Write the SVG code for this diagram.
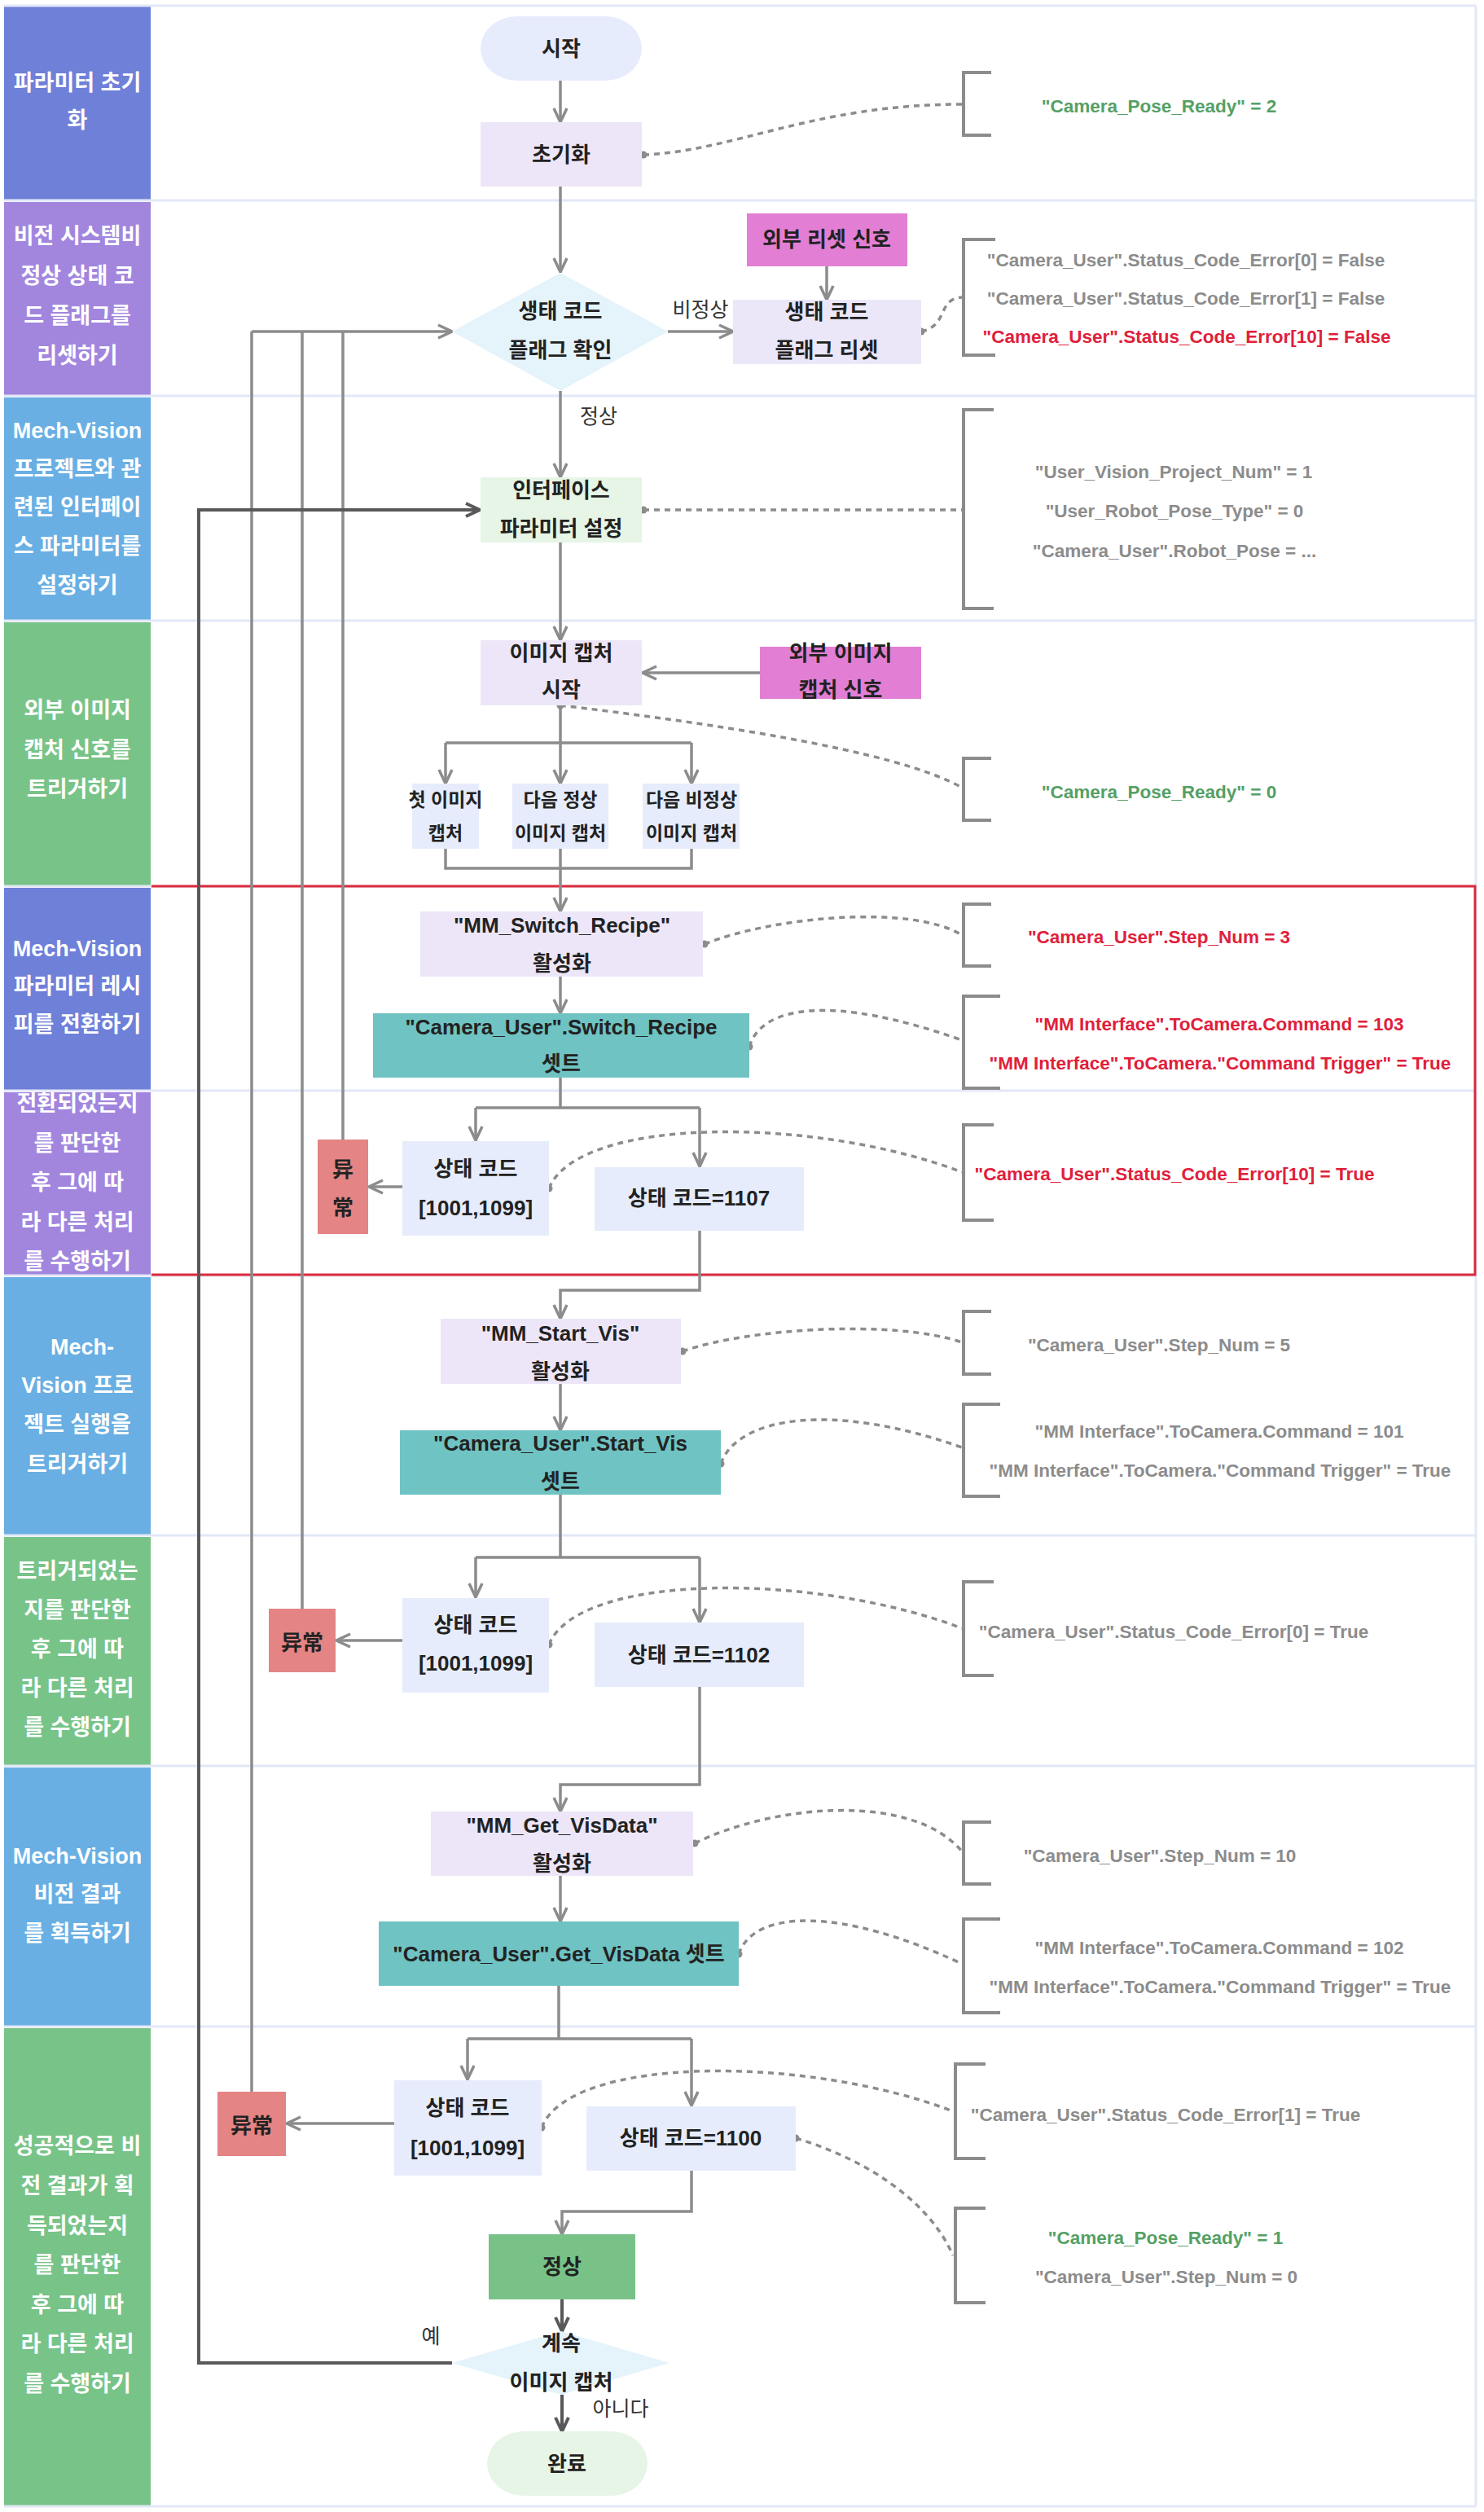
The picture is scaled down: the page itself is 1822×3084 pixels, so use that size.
<svg xmlns="http://www.w3.org/2000/svg" width="1822" height="3084" viewBox="0 0 1822 3084">
<defs>
<style>
.lbl{font-family:"Liberation Sans","Noto Sans CJK KR",sans-serif;font-weight:bold;font-size:27px;fill:#fff;text-anchor:middle;dominant-baseline:central}
.nt{font-family:"Liberation Sans","Noto Sans CJK KR",sans-serif;font-weight:bold;font-size:26px;fill:#222;text-anchor:middle;dominant-baseline:central}
.ns{font-family:"Liberation Sans","Noto Sans CJK KR",sans-serif;font-weight:bold;font-size:23px;fill:#222;text-anchor:middle;dominant-baseline:central}
.cn{font-family:"Noto Sans CJK SC","Noto Sans CJK KR",sans-serif;font-weight:bold;font-size:26px;fill:#222;text-anchor:middle;dominant-baseline:central}
.el{font-family:"Liberation Sans","Noto Sans CJK KR",sans-serif;font-size:25px;fill:#333;text-anchor:middle;dominant-baseline:central}
.an{font-family:"Liberation Sans","Noto Sans CJK KR",sans-serif;font-weight:bold;font-size:22.5px;text-anchor:middle;dominant-baseline:central}
.g{fill:#8c8c8c}.r{fill:#e0203a}.gr{fill:#55a064}
.e{fill:none;stroke:#8c8c8c;stroke-width:3.5}
.ed{fill:none;stroke:#595959;stroke-width:4}
.d{fill:none;stroke:#8c8c8c;stroke-width:3.5;stroke-dasharray:7 6}
.br{fill:none;stroke:#8c8c8c;stroke-width:4}
.sep{stroke:#e3e8f8;stroke-width:3}
</style>
<marker id="a" viewBox="0 0 20 20" refX="19" refY="10" markerWidth="20" markerHeight="20" orient="auto" markerUnits="userSpaceOnUse"><path d="M2,2 L19,10 L2,18" fill="none" stroke="#8c8c8c" stroke-width="3.5"/></marker>
<marker id="ad" viewBox="0 0 20 20" refX="19" refY="10" markerWidth="20" markerHeight="20" orient="auto" markerUnits="userSpaceOnUse"><path d="M2,2 L19,10 L2,18" fill="none" stroke="#595959" stroke-width="4"/></marker>
</defs>
<rect x="0" y="0" width="1822" height="3084" fill="#fff"/>

<g id="lanes">
<rect x="5" y="8" width="180" height="237" fill="#6f80d9"/>
<rect x="5" y="248" width="180" height="237" fill="#a286de"/>
<rect x="5" y="488" width="180" height="273" fill="#69afe3"/>
<rect x="5" y="764" width="180" height="323" fill="#78c388"/>
<rect x="5" y="1090" width="180" height="248" fill="#6f80d9"/>
<rect x="5" y="1341" width="180" height="224" fill="#a286de"/>
<rect x="5" y="1568" width="180" height="316" fill="#69afe3"/>
<rect x="5" y="1887" width="180" height="280" fill="#78c388"/>
<rect x="5" y="2170" width="180" height="317" fill="#69afe3"/>
<rect x="5" y="2490" width="180" height="586" fill="#78c388"/>
<line class="sep" x1="5" y1="7" x2="1812" y2="7"/>
<line class="sep" x1="1812" y1="7" x2="1812" y2="3077"/>
<line class="sep" x1="5" y1="3077" x2="1812" y2="3077"/>
<line class="sep" x1="5" y1="246" x2="1812" y2="246"/>
<line class="sep" x1="5" y1="486" x2="1812" y2="486"/>
<line class="sep" x1="5" y1="762" x2="1812" y2="762"/>
<line class="sep" x1="5" y1="1088" x2="1812" y2="1088"/>
<line class="sep" x1="5" y1="1339" x2="1812" y2="1339"/>
<line class="sep" x1="5" y1="1566" x2="1812" y2="1566"/>
<line class="sep" x1="5" y1="1885" x2="1812" y2="1885"/>
<line class="sep" x1="5" y1="2168" x2="1812" y2="2168"/>
<line class="sep" x1="5" y1="2488" x2="1812" y2="2488"/>
<path d="M186,1088 L1811,1088 L1811,1565 L186,1565" fill="none" stroke="#dc2a3c" stroke-width="3"/>
<text class="lbl" x="95" y="102">파라미터 초기</text>
<text class="lbl" x="95" y="148">화</text>
<text class="lbl" x="95" y="290">비전 시스템비</text>
<text class="lbl" x="95" y="339">정상 상태 코</text>
<text class="lbl" x="95" y="388">드 플래그를</text>
<text class="lbl" x="95" y="437">리셋하기</text>
<text class="lbl" x="95" y="529">Mech-Vision</text>
<text class="lbl" x="95" y="576">프로젝트와 관</text>
<text class="lbl" x="95" y="623">련된 인터페이</text>
<text class="lbl" x="95" y="671">스 파라미터를</text>
<text class="lbl" x="95" y="719">설정하기</text>
<text class="lbl" x="95" y="872">외부 이미지</text>
<text class="lbl" x="95" y="921">캡처 신호를</text>
<text class="lbl" x="95" y="969">트리거하기</text>
<text class="lbl" x="95" y="1165">Mech-Vision</text>
<text class="lbl" x="95" y="1211">파라미터 레시</text>
<text class="lbl" x="95" y="1258">피를 전환하기</text>
<text class="lbl" x="95" y="1355">전환되었는지</text>
<text class="lbl" x="95" y="1404">를 판단한</text>
<text class="lbl" x="95" y="1452">후 그에 따</text>
<text class="lbl" x="95" y="1501">라 다른 처리</text>
<text class="lbl" x="95" y="1549">를 수행하기</text>
<text class="lbl" x="101" y="1654">Mech-</text>
<text class="lbl" x="95" y="1701">Vision 프로</text>
<text class="lbl" x="95" y="1749">젝트 실행을</text>
<text class="lbl" x="95" y="1798">트리거하기</text>
<text class="lbl" x="95" y="1929">트리거되었는</text>
<text class="lbl" x="95" y="1977">지를 판단한</text>
<text class="lbl" x="95" y="2025">후 그에 따</text>
<text class="lbl" x="95" y="2073">라 다른 처리</text>
<text class="lbl" x="95" y="2121">를 수행하기</text>
<text class="lbl" x="95" y="2279">Mech-Vision</text>
<text class="lbl" x="95" y="2326">비전 결과</text>
<text class="lbl" x="95" y="2374">를 획득하기</text>
<text class="lbl" x="95" y="2635">성공적으로 비</text>
<text class="lbl" x="95" y="2684">전 결과가 획</text>
<text class="lbl" x="95" y="2733">득되었는지</text>
<text class="lbl" x="95" y="2781">를 판단한</text>
<text class="lbl" x="95" y="2830">후 그에 따</text>
<text class="lbl" x="95" y="2878">라 다른 처리</text>
<text class="lbl" x="95" y="2927">를 수행하기</text>
</g>

<g id="connectors">
<path class="e" d="M688,99 L688,150" marker-end="url(#a)"/>
<path class="e" d="M688,229 L688,334" marker-end="url(#a)"/>
<path class="e" d="M820,407 L900,407" marker-end="url(#a)"/>
<path class="e" d="M1015,327 L1015,368" marker-end="url(#a)"/>
<path class="e" d="M688,480 L688,586" marker-end="url(#a)"/>
<path class="e" d="M688,666 L688,786" marker-end="url(#a)"/>
<path class="e" d="M933,826 L789,826" marker-end="url(#a)"/>
<path class="e" d="M688,866 L688,912 M547,912 L849,912"/>
<path class="e" d="M547,912 L547,962" marker-end="url(#a)"/>
<path class="e" d="M688,912 L688,962" marker-end="url(#a)"/>
<path class="e" d="M849,912 L849,962" marker-end="url(#a)"/>
<path class="e" d="M547,1042 L547,1066 L849,1066 L849,1042"/>
<path class="e" d="M688,1042 L688,1119" marker-end="url(#a)"/>
<path class="e" d="M688,1199 L688,1244" marker-end="url(#a)"/>
<path class="e" d="M688,1323 L688,1360 M584,1360 L859,1360"/>
<path class="e" d="M584,1360 L584,1400" marker-end="url(#a)"/>
<path class="e" d="M859,1360 L859,1432" marker-end="url(#a)"/>
<path class="e" d="M494,1457 L453,1457" marker-end="url(#a)"/>
<path class="e" d="M421,1399 L421,407 M371,1975 L371,407 M309,2568 L309,407"/>
<path class="e" d="M309,407 L555,407" marker-end="url(#a)"/>
<path class="e" d="M859,1511 L859,1584 L688,1584 L688,1619" marker-end="url(#a)"/>
<path class="e" d="M688,1699 L688,1756" marker-end="url(#a)"/>
<path class="e" d="M688,1835 L688,1912 M584,1912 L859,1912"/>
<path class="e" d="M584,1912 L584,1961" marker-end="url(#a)"/>
<path class="e" d="M859,1912 L859,1992" marker-end="url(#a)"/>
<path class="e" d="M494,2014 L413,2014" marker-end="url(#a)"/>
<path class="e" d="M859,2071 L859,2191 L688,2191 L688,2224" marker-end="url(#a)"/>
<path class="e" d="M688,2303 L688,2359" marker-end="url(#a)"/>
<path class="e" d="M686,2438 L686,2503 M574,2503 L849,2503"/>
<path class="e" d="M574,2503 L574,2553" marker-end="url(#a)"/>
<path class="e" d="M849,2503 L849,2585" marker-end="url(#a)"/>
<path class="e" d="M484,2607 L352,2607" marker-end="url(#a)"/>
<path class="e" d="M849,2665 L849,2715 L690,2715 L690,2743" marker-end="url(#a)"/>
<path class="ed" d="M690,2823 L690,2862" marker-end="url(#ad)"/>
<path class="ed" d="M555,2901 L244,2901 L244,626 L589,626" marker-end="url(#ad)"/>
<path class="ed" d="M690,2940 L690,2985" marker-end="url(#ad)"/>
<text class="el" x="860" y="380">비정상</text>
<text class="el" x="735" y="511">정상</text>
<text class="el" x="529" y="2868">예</text>
<text class="el" x="762" y="2957">아니다</text>

<path class="d" d="M790,190 C900,186 1000,128 1181,128"/>
<circle class="g" cx="790" cy="190" r="4.5"/>
<path class="d" d="M1131,407 C1165,400 1150,367 1181,365"/>
<circle class="g" cx="1131" cy="407" r="4.5"/>
<path class="d" d="M790,626 L1181,626"/>
<circle class="g" cx="790" cy="626" r="4.5"/>
<path class="d" d="M688,866 C850,885 1100,920 1181,967"/>
<circle class="g" cx="688" cy="866" r="4.5"/>
<path class="d" d="M865,1159 C950,1125 1120,1110 1181,1148"/>
<circle class="g" cx="865" cy="1159" r="4.5"/>
<path class="d" d="M920,1285 C935,1235 1020,1220 1181,1277"/>
<circle class="g" cx="920" cy="1285" r="4.5"/>
<path class="d" d="M674,1459 C710,1370 1000,1370 1181,1439"/>
<circle class="g" cx="674" cy="1459" r="4.5"/>
<path class="d" d="M838,1659 C920,1630 1100,1620 1181,1648"/>
<circle class="g" cx="838" cy="1659" r="4.5"/>
<path class="d" d="M885,1797 C905,1740 1020,1720 1181,1777"/>
<circle class="g" cx="885" cy="1797" r="4.5"/>
<path class="d" d="M674,2019 C710,1930 1000,1930 1181,1999"/>
<circle class="g" cx="674" cy="2019" r="4.5"/>
<path class="d" d="M853,2263 C950,2215 1120,2200 1181,2273"/>
<circle class="g" cx="853" cy="2263" r="4.5"/>
<path class="d" d="M907,2399 C925,2345 1030,2340 1181,2411"/>
<circle class="g" cx="907" cy="2399" r="4.5"/>
<path class="d" d="M665,2612 C700,2523 990,2523 1170,2592"/>
<circle class="g" cx="665" cy="2612" r="4.5"/>
<path class="d" d="M977,2625 C1060,2650 1140,2700 1170,2769"/>
<circle class="g" cx="977" cy="2625" r="4.5"/>
</g>

<g id="n_start"><rect x="590" y="20" width="198" height="79" rx="45" ry="40" fill="#e6ecfb"/><text class="nt" x="689" y="60">시작</text></g>
<g id="n_init"><rect x="590" y="150" width="198" height="79" fill="#ede6f8"/><text class="nt" x="689" y="190">초기화</text></g>
<g id="n_check"><polygon points="688,335 820,407 688,480 555,407" fill="#e5f3fb"/><text class="nt" x="688" y="382">생태 코드</text><text class="nt" x="688" y="430">플래그 확인</text></g>
<g id="n_extreset"><rect x="917" y="262" width="197" height="65" fill="#e27fd4"/><text class="nt" x="1015" y="294">외부 리셋 신호</text></g>
<g id="n_reset"><rect x="900" y="368" width="231" height="79" fill="#ebe7f8"/><text class="nt" x="1015" y="383">생태 코드</text><text class="nt" x="1015" y="430">플래그 리셋</text></g>
<g id="n_iface"><rect x="590" y="586" width="198" height="80" fill="#e6f5e6"/><text class="nt" x="689" y="602">인터페이스</text><text class="nt" x="689" y="649">파라미터 설정</text></g>
<g id="n_capstart"><rect x="590" y="786" width="198" height="80" fill="#ede6f8"/><text class="nt" x="689" y="802">이미지 캡처</text><text class="nt" x="689" y="847">시작</text></g>
<g id="n_extcap"><rect x="933" y="794" width="198" height="64" fill="#e27fd4"/><text class="nt" x="1032" y="802">외부 이미지</text><text class="nt" x="1032" y="847">캡처 신호</text></g>
<g id="n_cap1"><rect x="506" y="962" width="82" height="80" fill="#e6ecfb"/><text class="ns" x="547" y="982">첫 이미지</text><text class="ns" x="547" y="1023">캡처</text></g>
<g id="n_cap2"><rect x="629" y="962" width="118" height="80" fill="#e6ecfb"/><text class="ns" x="688" y="982">다음 정상</text><text class="ns" x="688" y="1023">이미지 캡처</text></g>
<g id="n_cap3"><rect x="789" y="962" width="119" height="80" fill="#e6ecfb"/><text class="ns" x="849" y="982">다음 비정상</text><text class="ns" x="849" y="1023">이미지 캡처</text></g>
<g id="n_mmswitch"><rect x="516" y="1119" width="347" height="80" fill="#ede6f8"/><text class="nt" x="690" y="1136">"MM_Switch_Recipe"</text><text class="nt" x="690" y="1183">활성화</text></g>
<g id="n_switch"><rect x="458" y="1244" width="462" height="79" fill="#6fc3c2"/><text class="nt" x="689" y="1261">"Camera_User".Switch_Recipe</text><text class="nt" x="689" y="1306">셋트</text></g>
<g id="n_code1"><rect x="494" y="1401" width="180" height="116" fill="#e6ecfb"/><text class="nt" x="584" y="1435">상태 코드</text><text class="nt" x="584" y="1483">[1001,1099]</text></g>
<g id="n_1107"><rect x="730" y="1433" width="257" height="78" fill="#e6ecfb"/><text class="nt" x="858" y="1471">상태 코드=1107</text></g>
<g id="n_err1"><rect x="390" y="1399" width="62" height="116" fill="#e48484"/><text class="cn" x="421" y="1433">异</text><text class="cn" x="421" y="1480">常</text></g>
<g id="n_mmstart"><rect x="541" y="1619" width="295" height="80" fill="#ede6f8"/><text class="nt" x="688" y="1637">"MM_Start_Vis"</text><text class="nt" x="688" y="1684">활성화</text></g>
<g id="n_startvis"><rect x="491" y="1756" width="394" height="79" fill="#6fc3c2"/><text class="nt" x="688" y="1772">"Camera_User".Start_Vis</text><text class="nt" x="688" y="1819">셋트</text></g>
<g id="n_code2"><rect x="494" y="1962" width="180" height="116" fill="#e6ecfb"/><text class="nt" x="584" y="1995">상태 코드</text><text class="nt" x="584" y="2042">[1001,1099]</text></g>
<g id="n_1102"><rect x="730" y="1992" width="257" height="79" fill="#e6ecfb"/><text class="nt" x="858" y="2032">상태 코드=1102</text></g>
<g id="n_err2"><rect x="330" y="1975" width="82" height="78" fill="#e48484"/><text class="cn" x="371" y="2014">异常</text></g>
<g id="n_mmget"><rect x="529" y="2224" width="322" height="79" fill="#ede6f8"/><text class="nt" x="690" y="2241">"MM_Get_VisData"</text><text class="nt" x="690" y="2288">활성화</text></g>
<g id="n_getvis"><rect x="465" y="2359" width="442" height="79" fill="#6fc3c2"/><text class="nt" x="686" y="2399">"Camera_User".Get_VisData 셋트</text></g>
<g id="n_code3"><rect x="484" y="2554" width="181" height="117" fill="#e6ecfb"/><text class="nt" x="574" y="2588">상태 코드</text><text class="nt" x="574" y="2637">[1001,1099]</text></g>
<g id="n_1100"><rect x="720" y="2586" width="257" height="79" fill="#e6ecfb"/><text class="nt" x="848" y="2625">상태 코드=1100</text></g>
<g id="n_err3"><rect x="267" y="2568" width="84" height="79" fill="#e48484"/><text class="cn" x="309" y="2607">异常</text></g>
<g id="n_ok"><rect x="600" y="2743" width="180" height="80" fill="#78c288"/><text class="nt" x="690" y="2783">정상</text></g>
<g id="n_cont"><polygon points="689,2862 822,2901 689,2940 555,2901" fill="#e5f3fb"/><text class="nt" x="689" y="2877">계속</text><text class="nt" x="689" y="2925">이미지 캡처</text></g>
<g id="n_end"><rect x="598" y="2985" width="197" height="79" rx="45" ry="40" fill="#e6f5e6"/><text class="nt" x="696" y="3025">완료</text></g>

<g id="annotations">
<path class="br" d="M1217,89 L1183,89 L1183,166 L1217,166"/>
<text class="an gr" x="1423" y="130">"Camera_Pose_Ready" = 2</text>
<path class="br" d="M1222,294 L1183,294 L1183,436 L1222,436"/>
<text class="an g" x="1456" y="319">"Camera_User".Status_Code_Error[0] = False</text>
<text class="an g" x="1456" y="366">"Camera_User".Status_Code_Error[1] = False</text>
<text class="an r" x="1457" y="413">"Camera_User".Status_Code_Error[10] = False</text>
<path class="br" d="M1220,503 L1183,503 L1183,747 L1220,747"/>
<text class="an g" x="1441" y="579">"User_Vision_Project_Num" = 1</text>
<text class="an g" x="1442" y="627">"User_Robot_Pose_Type" = 0</text>
<text class="an g" x="1442" y="676">"Camera_User".Robot_Pose = ...</text>
<path class="br" d="M1217,931 L1183,931 L1183,1007 L1217,1007"/>
<text class="an gr" x="1423" y="972">"Camera_Pose_Ready" = 0</text>
<path class="br" d="M1217,1110 L1183,1110 L1183,1186 L1217,1186"/>
<text class="an r" x="1423" y="1150">"Camera_User".Step_Num = 3</text>
<path class="br" d="M1228,1223 L1183,1223 L1183,1336 L1228,1336"/>
<text class="an r" x="1497" y="1257">"MM Interface".ToCamera.Command = 103</text>
<text class="an r" x="1498" y="1305">"MM Interface".ToCamera."Command Trigger" = True</text>
<path class="br" d="M1220,1381 L1183,1381 L1183,1498 L1220,1498"/>
<text class="an r" x="1442" y="1441">"Camera_User".Status_Code_Error[10] = True</text>
<path class="br" d="M1217,1610 L1183,1610 L1183,1687 L1217,1687"/>
<text class="an g" x="1423" y="1651">"Camera_User".Step_Num = 5</text>
<path class="br" d="M1228,1724 L1183,1724 L1183,1837 L1228,1837"/>
<text class="an g" x="1497" y="1757">"MM Interface".ToCamera.Command = 101</text>
<text class="an g" x="1498" y="1805">"MM Interface".ToCamera."Command Trigger" = True</text>
<path class="br" d="M1220,1942 L1183,1942 L1183,2057 L1220,2057"/>
<text class="an g" x="1441" y="2003">"Camera_User".Status_Code_Error[0] = True</text>
<path class="br" d="M1217,2237 L1183,2237 L1183,2313 L1217,2313"/>
<text class="an g" x="1424" y="2278">"Camera_User".Step_Num = 10</text>
<path class="br" d="M1228,2356 L1183,2356 L1183,2471 L1228,2471"/>
<text class="an g" x="1497" y="2391">"MM Interface".ToCamera.Command = 102</text>
<text class="an g" x="1498" y="2439">"MM Interface".ToCamera."Command Trigger" = True</text>
<path class="br" d="M1210,2534 L1173,2534 L1173,2650 L1210,2650"/>
<text class="an g" x="1431" y="2596">"Camera_User".Status_Code_Error[1] = True</text>
<path class="br" d="M1210,2711 L1173,2711 L1173,2827 L1210,2827"/>
<text class="an gr" x="1431" y="2747">"Camera_Pose_Ready" = 1</text>
<text class="an g" x="1432" y="2795">"Camera_User".Step_Num = 0</text>
</g>
</svg>
